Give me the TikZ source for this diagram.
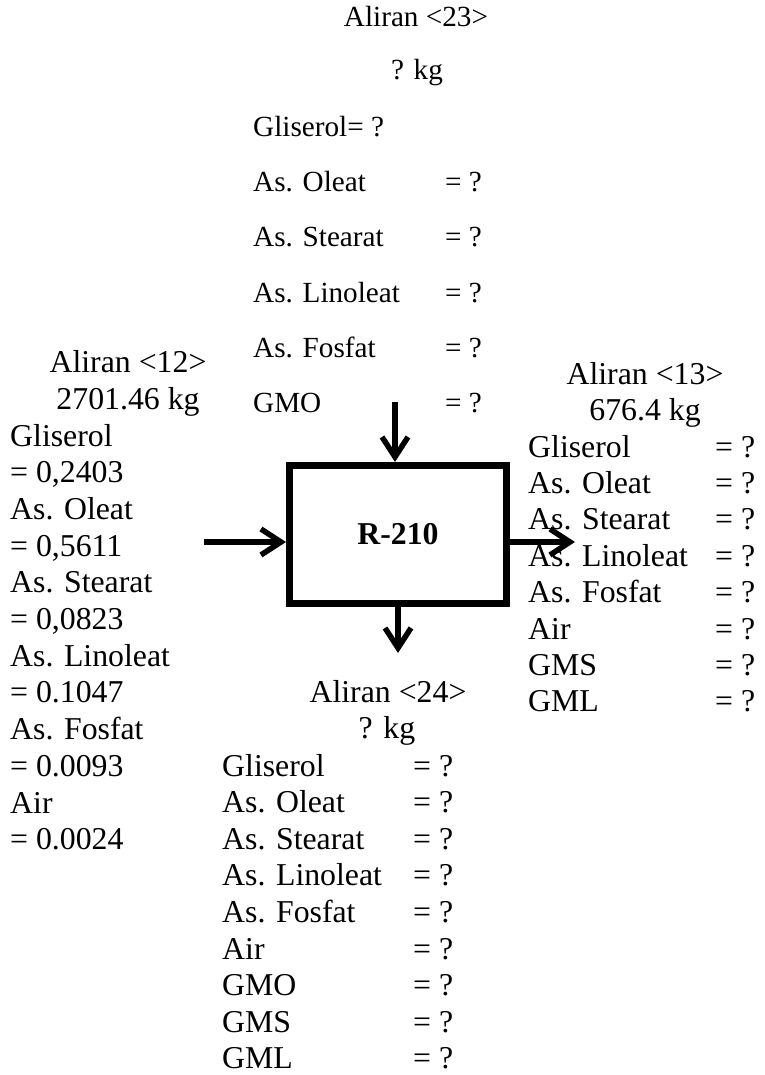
\documentclass[tikz,border=0pt]{standalone}
\usepackage{fontspec}
\setmainfont{Liberation Serif}
\usetikzlibrary{arrows.meta}
\begin{document}
\begin{tikzpicture}[x=1pt,y=-1pt,
  txt/.style={font=\fontsize{31.8}{36.6}\selectfont, inner sep=0pt, anchor=base west},
  txts/.style={font=\fontsize{29.2}{33}\selectfont, inner sep=0pt, anchor=base west},
  flow/.style={line width=5.5pt, -{Straight Barb[length=20pt,width=26pt]}},
  unit/.style={draw, line width=7pt, minimum width=217pt, minimum height=138pt, inner sep=0pt, font=\fontsize{31.8}{36.6}\selectfont\bfseries}]
\useasboundingbox (0,0) rectangle (764,1075);

% Stream 23 (top)
\node[txts, anchor=base] (h23) at (416,27) {Aliran <23>};
\node[txts, anchor=base] (m23) at (417,80) {? kg};
\node[txts] (g23) at (253,137) {Gliserol= ?};
\node[txts] (a231) at (253,192) {As. Oleat};
\node[txts] (b231) at (445,192) {= ?};
\node[txts] (a232) at (253,247) {As. Stearat};
\node[txts] (b232) at (445,247) {= ?};
\node[txts] (a233) at (253,302) {As. Linoleat};
\node[txts] (b233) at (445,302) {= ?};
\node[txts] (a234) at (253,357) {As. Fosfat};
\node[txts] (b234) at (445,357) {= ?};
\node[txts] (a235) at (253,412) {GMO};
\node[txts] (b235) at (445,412) {= ?};

% Stream 12 (left)
\node[txt, anchor=base] (h12) at (128,372) {Aliran <12>};
\node[txt, anchor=base] (m12) at (128,409) {2701.46 kg};
\node[txt] (l1) at (10,446) {Gliserol};
\node[txt] (l2) at (10,482.7) {= 0,2403};
\node[txt] (l3) at (10,519.4) {As. Oleat};
\node[txt] (l4) at (10,556.1) {= 0,5611};
\node[txt] (l5) at (10,592.8) {As. Stearat};
\node[txt] (l6) at (10,629.5) {= 0,0823};
\node[txt] (l7) at (10,666.2) {As. Linoleat};
\node[txt] (l8) at (10,702.9) {= 0.1047};
\node[txt] (l9) at (10,739.6) {As. Fosfat};
\node[txt] (l10) at (10,776.3) {= 0.0093};
\node[txt] (l11) at (10,813) {Air};
\node[txt] (l12) at (10,849.7) {= 0.0024};

% Stream 13 (right)
\node[txt, anchor=base] (h13) at (645,384) {Aliran <13>};
\node[txt, anchor=base] (m13) at (645,420.5) {676.4 kg};
\node[txt] (r1) at (528,457) {Gliserol};
\node[txt] (q1) at (715,457) {= ?};
\node[txt] (r2) at (528,493.4) {As. Oleat};
\node[txt] (q2) at (715,493.4) {= ?};
\node[txt] (r3) at (528,529.8) {As. Stearat};
\node[txt] (q3) at (715,529.8) {= ?};
\node[txt] (r4) at (528,566.2) {As. Linoleat};
\node[txt] (q4) at (715,566.2) {= ?};
\node[txt] (r5) at (528,602.6) {As. Fosfat};
\node[txt] (q5) at (715,602.6) {= ?};
\node[txt] (r6) at (528,639) {Air};
\node[txt] (q6) at (715,639) {= ?};
\node[txt] (r7) at (528,675.4) {GMS};
\node[txt] (q7) at (715,675.4) {= ?};
\node[txt] (r8) at (528,711.8) {GML};
\node[txt] (q8) at (715,711.8) {= ?};

% Stream 24 (bottom)
\node[txt, anchor=base] (h24) at (388,702) {Aliran <24>};
\node[txt, anchor=base] (m24) at (387,738.5) {? kg};
\node[txt] (d1) at (222,776) {Gliserol};
\node[txt] (e1) at (413,776) {= ?};
\node[txt] (d2) at (222,812.6) {As. Oleat};
\node[txt] (e2) at (413,812.6) {= ?};
\node[txt] (d3) at (222,849.2) {As. Stearat};
\node[txt] (e3) at (413,849.2) {= ?};
\node[txt] (d4) at (222,885.8) {As. Linoleat};
\node[txt] (e4) at (413,885.8) {= ?};
\node[txt] (d5) at (222,922.4) {As. Fosfat};
\node[txt] (e5) at (413,922.4) {= ?};
\node[txt] (d6) at (222,959) {Air};
\node[txt] (e6) at (413,959) {= ?};
\node[txt] (d7) at (222,995.6) {GMO};
\node[txt] (e7) at (413,995.6) {= ?};
\node[txt] (d8) at (222,1032.2) {GMS};
\node[txt] (e8) at (413,1032.2) {= ?};
\node[txt] (d9) at (222,1068.8) {GML};
\node[txt] (e9) at (413,1068.8) {= ?};

% Unit
\node[unit] (R) at (398,534.5) {R-210};

% Flows
\coordinate (inL) at (204,542);
\draw[flow] (inL) -- (inL -| R.west);
\coordinate (inT) at (395,402);
\draw[flow] (inT) -- (inT |- R.north);
\coordinate (outR) at (575,542);
\draw[flow] (outR -| R.east) -- (outR);
\coordinate (outB) at (398,653);
\draw[flow] (outB |- R.south) -- (outB);
\end{tikzpicture}
\end{document}
